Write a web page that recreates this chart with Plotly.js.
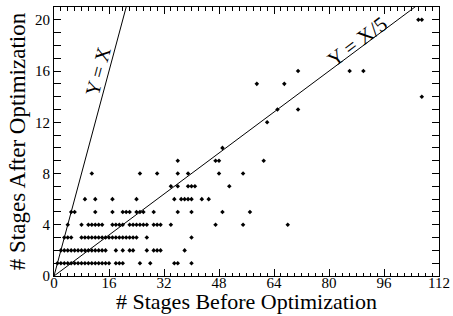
<!DOCTYPE html>
<html>
<head>
<meta charset="utf-8">
<script src="https://cdn.plot.ly/plotly-3.0.1.min.js"></script>
<style>html,body{margin:0;padding:0;background:#fff}#chart{width:453px;height:316px}</style>
</head>
<body>
<div id="chart"></div>
<script>
// Stages before optimization (x) and after optimization (y), read row by row
var row1X = [1,2,3,4,5,6,7,8,9,10,11,12,13,14,15,16,18,19,20,25,28,35,36,40];
var row2X = [2,3,4,5,6,7,8,9,10,11,12,13,14,15,18,20,22,23,27,29,30,31,38];
var row3X = [3,4,5,8,9,10,11,12,13,14,15,16,17,18,19,20,21,22,23,24,27,40];
var row4X = [4,8,10,11,12,13,14,17,18,19,20,22,23,24,25,26,27,29,30,31,34,47,55,68];
var row5X = [5,6,12,17,20,21,22,24,25,26,29,36,40,49,57];
var row6X = [9,12,17,24,35,37,38,39,40,43,45];
var row7X = [34,36,39,40,41,51];
var row8X = [11,25,30,36,39,48,55];
var row9X = [36,47,48,61];
var row10X = [49];
var row12X = [62];
var row13X = [65,71];
var row14X = [107];
var row15X = [59,67];
var row16X = [71,86,90];
var row20X = [106,107];

var rows = [
  [1,row1X],[2,row2X],[3,row3X],[4,row4X],[5,row5X],[6,row6X],[7,row7X],[8,row8X],
  [9,row9X],[10,row10X],[12,row12X],[13,row13X],[14,row14X],[15,row15X],[16,row16X],[20,row20X]
];
var ptsX = [], ptsY = [];
rows.forEach(function(r){ r[1].forEach(function(x){ ptsX.push(x); ptsY.push(r[0]); }); });

// Reference lines
var refX = [0, 112];
var lineYeqX = refX.map(function(x){ return x; });
var lineYeqX5 = refX.map(function(x){ return x/5; });

var xTicks = [0,16,32,48,64,80,96,112];
var yTicks = [0,4,8,12,16,20];

var xTitle = '# Stages Before Optimization';
var yTitle = '# Stages After Optimization';

var fontFam = '"Liberation Serif", "Times New Roman", Times, serif';

var traces = [
  {x: refX, y: lineYeqX, mode: 'lines', line: {color: '#000', width: 1}, hoverinfo: 'skip'},
  {x: refX, y: lineYeqX5, mode: 'lines', line: {color: '#000', width: 1}, hoverinfo: 'skip'},
  {x: ptsX, y: ptsY, mode: 'markers', marker: {symbol: 'diamond', size: 3.5, color: '#000'}, cliponaxis: false},
  // carrier for the tick-label axis (invisible)
  {x: refX, y: [0, 0], xaxis: 'x2', yaxis: 'y', mode: 'markers', marker: {opacity: 0}, hoverinfo: 'skip'}
];

var axisCommon = {
  showgrid: false, zeroline: false, showline: true, linecolor: '#000', linewidth: 1,
  mirror: 'allticks', ticks: 'inside', ticklen: 7, tickwidth: 1, tickcolor: '#000',
  tickfont: {family: fontFam, size: 15, color: '#000'}
};

var layout = {
  width: 453, height: 316,
  margin: {l: 54, r: 14, t: 7, b: 40},
  paper_bgcolor: '#fff', plot_bgcolor: '#fff',
  showlegend: false,
  font: {family: fontFam, color: '#000'},
  xaxis: Object.assign({}, axisCommon, {
    range: [0, 112], tickmode: 'array', tickvals: xTicks, showticklabels: false,
    minor: {dtick: 2, ticks: 'inside', ticklen: 3.5, tickcolor: '#000', tickwidth: 1}
  }),
  xaxis2: {
    overlaying: 'x', anchor: 'free', position: 0.015, side: 'bottom',
    range: [0, 112], tickmode: 'array', tickvals: xTicks, ticktext: xTicks.map(String),
    showline: false, ticks: '', showgrid: false, zeroline: false,
    tickfont: {family: fontFam, size: 15, color: '#000'}
  },
  yaxis: Object.assign({}, axisCommon, {
    range: [0, 21], tickmode: 'array', tickvals: yTicks, ticktext: yTicks.map(String),
    minor: {dtick: 1, ticks: 'inside', ticklen: 3.5, tickcolor: '#000', tickwidth: 1},
    title: {text: yTitle, font: {family: fontFam, size: 23, color: '#000'}, standoff: 2}
  }),
  annotations: [
    {x: 0.5, y: -0.1487, xref: 'paper', yref: 'paper', text: xTitle, showarrow: false,
     xanchor: 'center', yanchor: 'bottom',
     font: {family: fontFam, size: 22, color: '#000'}},
    {x: 12.8, y: 16.0, xref: 'x', yref: 'y', text: 'Y = X', showarrow: false, textangle: -75,
     font: {family: fontFam, size: 20, color: '#000'}},
    {x: 88.1, y: 18.3, xref: 'x', yref: 'y', text: 'Y = X/5', showarrow: false, textangle: -37,
     font: {family: fontFam, size: 21, color: '#000'}}
  ]
};

Plotly.newPlot('chart', traces, layout, {displayModeBar: false, staticPlot: true});
</script>
</body>
</html>
